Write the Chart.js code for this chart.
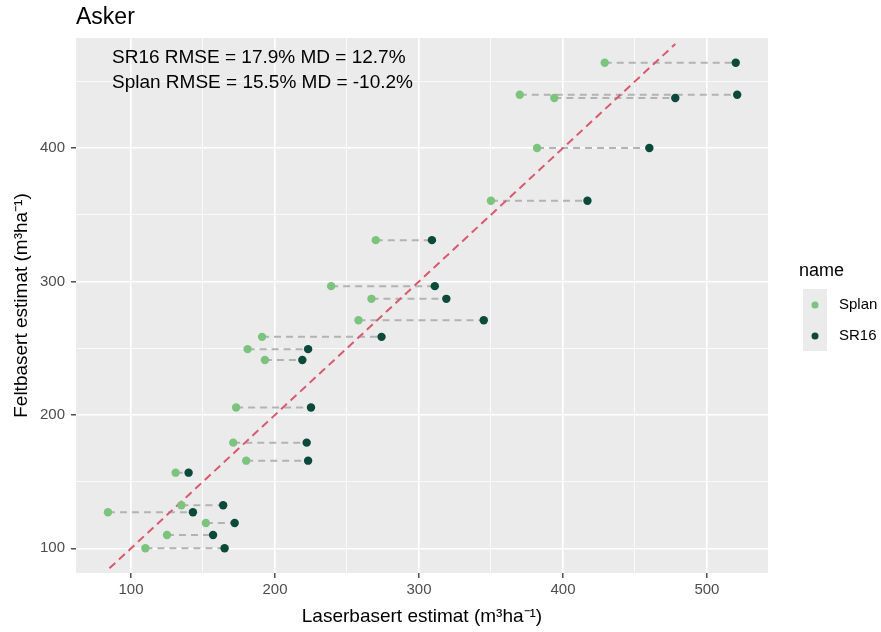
<!DOCTYPE html>
<html>
<head>
<meta charset="utf-8">
<script src="https://cdn.jsdelivr.net/npm/chart.js@4.4.0/dist/chart.umd.min.js"></script>
<style>
  body { margin: 0; background: #fff; }
  canvas { display: block; }
</style>
</head>
<body>
<canvas id="chart" width="881" height="632"></canvas>
<script>
// values, one row per plot
const feltY  = [464, 440, 437.5, 400, 360.5, 331, 296.5, 287, 271, 258.5, 249.3, 241.2, 205.5, 179.2, 165.7, 156.7, 132.3, 127, 119, 110, 100];
const splanX = [429, 370, 394, 382, 350, 270, 239, 267, 258, 191, 181, 193, 173, 171, 180, 131, 135, 84, 152, 125, 110];
const sr16X  = [520, 521, 478, 460, 417, 309, 311, 319, 345, 274, 223, 219, 225, 222, 223, 140, 164, 143, 172, 157, 165];
const refLine = [85, 478];

const xTicks = [100, 200, 300, 400, 500];
const yTicks = [100, 200, 300, 400];
const xMinor = [150, 250, 350, 450];
const yMinor = [150, 250, 350, 450];

const seriesNames = ['Splan', 'SR16'];
const splanColor = '#7cc47e';
const sr16Color = '#0b4a3a';

const FONT = "'Liberation Sans', Arial, sans-serif";

// grey dashed connectors, drawn behind everything else
const segments = feltY.map((y, i) => ({
  type: 'line',
  order: 3,
  data: [{ x: splanX[i], y }, { x: sr16X[i], y }],
  borderColor: '#b3b3b3',
  borderWidth: 2,
  borderDash: [7, 5],
  pointRadius: 0,
  fill: false
}));

const panelBg = {
  id: 'panelBg',
  beforeDraw(chart) {
    const { ctx, chartArea: a } = chart;
    ctx.save();
    ctx.fillStyle = '#fff';
    ctx.fillRect(0, 0, chart.width, chart.height);
    ctx.fillStyle = '#ebebeb';
    ctx.fillRect(a.left, a.top, a.right - a.left, a.bottom - a.top);
    ctx.restore();
  }
};

const texts = {
  id: 'texts',
  afterDraw(chart) {
    const { ctx } = chart;
    ctx.save();
    ctx.fillStyle = '#000';
    ctx.textAlign = 'left';
    ctx.textBaseline = 'alphabetic';
    ctx.font = '23px ' + FONT;
    ctx.fillText('Asker', 76, 24);

    ctx.font = '19px ' + FONT;
    ctx.fillText('SR16 RMSE = 17.9% MD = 12.7%', 112, 63);
    ctx.fillText('Splan RMSE = 15.5% MD = -10.2%', 112, 88);

    // legend
    ctx.font = '18px ' + FONT;
    ctx.textBaseline = 'middle';
    ctx.fillText('name', 799, 271);
    ctx.fillStyle = '#ebebeb';
    ctx.fillRect(803, 289, 24, 62);
    const cols = [splanColor, sr16Color];
    const ys = [305, 336];
    ctx.font = '15px ' + FONT;
    seriesNames.forEach((n, i) => {
      ctx.fillStyle = cols[i];
      ctx.beginPath();
      ctx.arc(815, ys[i], 3.5, 0, Math.PI * 2);
      ctx.fill();
      ctx.fillStyle = '#000';
      ctx.fillText(n, 839, ys[i]);
    });
    ctx.restore();
  }
};

function gridOpts(major) {
  return {
    color: '#ffffff',
    lineWidth: c => major.includes(c.tick.value) ? 1.6 : 0.8,
    tickColor: c => major.includes(c.tick.value) ? '#333333' : 'rgba(0,0,0,0)',
    tickWidth: 1.3,
    tickLength: 5
  };
}

new Chart(document.getElementById('chart'), {
  type: 'scatter',
  data: {
    datasets: [
      ...segments,
      {
        type: 'line',
        order: 2,
        data: [{ x: refLine[0], y: refLine[0] }, { x: refLine[1], y: refLine[1] }],
        borderColor: '#d9596e',
        borderWidth: 2,
        borderDash: [8, 5],
        pointRadius: 0,
        fill: false
      },
      {
        label: 'Splan',
        order: 1,
        data: feltY.map((y, i) => ({ x: splanX[i], y })),
        backgroundColor: splanColor,
        borderWidth: 0,
        pointRadius: 4.2
      },
      {
        label: 'SR16',
        order: 0,
        data: feltY.map((y, i) => ({ x: sr16X[i], y })),
        backgroundColor: sr16Color,
        borderWidth: 0,
        pointRadius: 4.2
      }
    ]
  },
  options: {
    responsive: false,
    animation: false,
    layout: { padding: { left: 0, right: 113, top: 38, bottom: 0 } },
    plugins: {
      legend: { display: false },
      tooltip: { enabled: false },
      title: { display: false }
    },
    scales: {
      x: {
        type: 'linear',
        min: 61.8,
        max: 542.4,
        afterFit: s => { s.height = 59; },
        afterBuildTicks: s => { s.ticks = [...xTicks, ...xMinor].sort((a, b) => a - b).map(v => ({ value: v })); },
        border: { display: false },
        grid: gridOpts(xTicks),
        ticks: {
          autoSkip: false,
          maxRotation: 0,
          padding: 3,
          color: '#4d4d4d',
          font: { family: FONT, size: 15 },
          callback: v => xTicks.includes(v) ? String(v) : ''
        },
        title: {
          display: true,
          text: 'Laserbasert estimat (m³ha⁻¹)',
          color: '#000',
          font: { family: FONT, size: 19 },
          padding: { top: 0, bottom: 4 }
        }
      },
      y: {
        type: 'linear',
        min: 81.5,
        max: 482.5,
        afterFit: s => { s.width = 76; },
        afterBuildTicks: s => { s.ticks = [...yTicks, ...yMinor].sort((a, b) => a - b).map(v => ({ value: v })); },
        border: { display: false },
        grid: gridOpts(yTicks),
        ticks: {
          autoSkip: false,
          padding: 6,
          color: '#4d4d4d',
          font: { family: FONT, size: 15 },
          callback: v => yTicks.includes(v) ? String(v) : ''
        },
        title: {
          display: true,
          text: 'Feltbasert estimat (m³ha⁻¹)',
          color: '#000',
          font: { family: FONT, size: 19 },
          padding: { top: 10, bottom: 0 }
        }
      }
    }
  },
  plugins: [panelBg, texts]
});
</script>
</body>
</html>
